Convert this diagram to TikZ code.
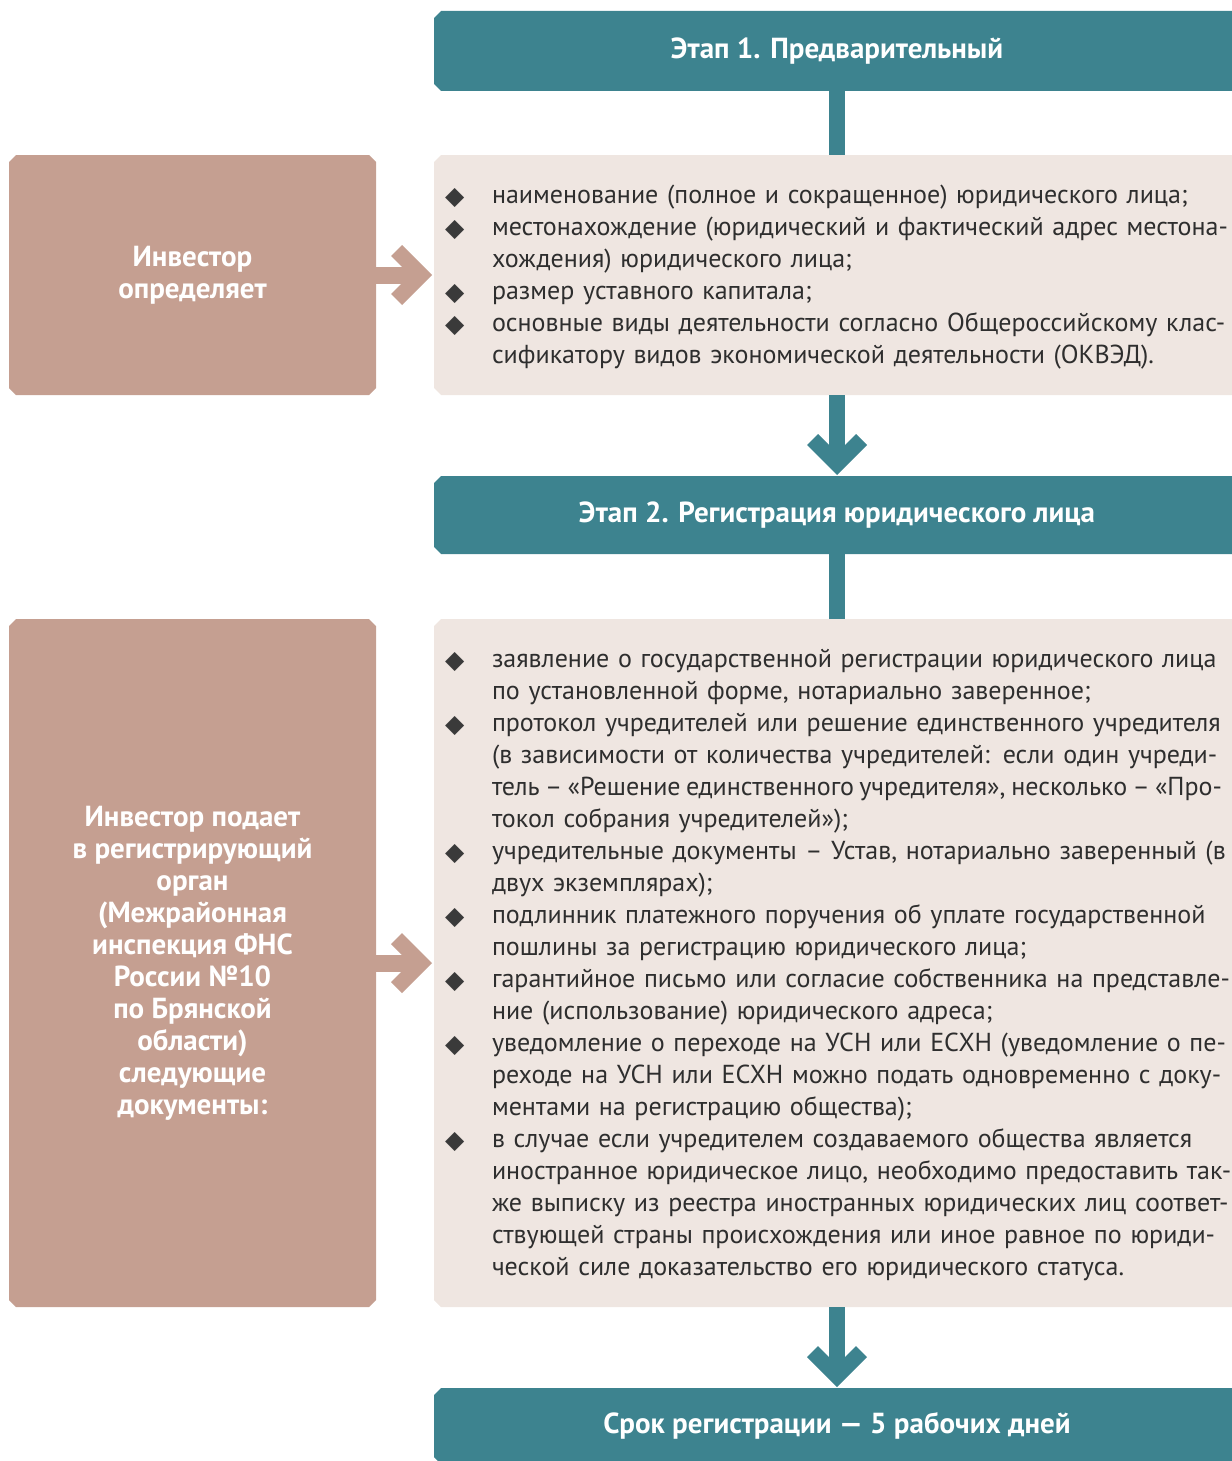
\documentclass[tikz,border=0pt]{standalone}
\usepackage{fontspec}
\setmainfont{PT Sans}
\newfontfamily\symfont{DejaVu Sans}
\usetikzlibrary{calc}
\pgfdeclarelayer{background}
\pgfsetlayers{background,main}
\definecolor{tealc}{HTML}{3D838F}
\definecolor{brownc}{HTML}{C59F91}
\definecolor{palec}{HTML}{EFE6E1}
\definecolor{txtc}{HTML}{2E2E2E}
\definecolor{bulc}{HTML}{3A3A3A}
\newcommand\bulbox{\hbox to 47pt{\hspace{0pt}\raisebox{-1.5pt}{\symfont\fontsize{25pt}{25pt}\selectfont\color{bulc}◆}\hfil}}
\newcommand\indbox{\hbox to 47pt{}}
\newcommand\bj[1]{\par\noindent\bulbox\hbox to 730pt{#1}}
\newcommand\bz[1]{\par\noindent\bulbox\hbox to 730pt{#1\hfil}}
\newcommand\cj[1]{\par\noindent\indbox\hbox to 730pt{#1}}
\newcommand\ctj[1]{\par\noindent\indbox\hbox to 730pt{\spaceskip=0.12em plus 0.2em minus 0.02em #1}}
\newcommand\cz[1]{\par\noindent\indbox\hbox to 730pt{#1\hfil}}
\newcommand\chamLeft[2]{%
  \fill[#2] ($(#1.north west)+(7,0)$) -- (#1.north east) -- (#1.south east)
    -- ($(#1.south west)+(7,0)$) -- ($(#1.south west)+(0,-7)$) -- ($(#1.north west)+(0,7)$) -- cycle;}
\newcommand\chamAll[2]{%
  \fill[#2] ($(#1.north west)+(7,0)$) -- ($(#1.north east)+(-7,0)$) -- ($(#1.north east)+(0,7)$)
    -- ($(#1.south east)+(0,-7)$) -- ($(#1.south east)+(-7,0)$)
    -- ($(#1.south west)+(7,0)$) -- ($(#1.south west)+(0,-7)$) -- ($(#1.north west)+(0,7)$) -- cycle;}
\tikzset{
  boxnode/.style={rectangle, inner sep=0pt, outer sep=0pt},
  stagebox/.style={boxnode, minimum width=806pt, text=white,
    font=\bfseries\fontsize{29pt}{34pt}\selectfont},
  palebox/.style={boxnode, minimum width=806pt},
  brownbox/.style={boxnode, minimum width=367pt, text=white, align=center,
    font=\bfseries\fontsize{29pt}{32pt}\selectfont},
  listtext/.style={boxnode, anchor=west, text width=777pt, text=txtc,
    font=\fontsize{26pt}{32pt}\selectfont\setlength\parskip{0pt}},
  conn/.style={draw=tealc, line width=16pt},
  bconn/.style={draw=brownc, line width=17pt},
}
\begin{document}
\begin{tikzpicture}[x=1pt,y=-1pt]
\useasboundingbox (0,0) rectangle (1231,1461);
% stages
\node[stagebox, minimum height=80pt] (s1) at (837,51) {Этап 1. Предварительный};
\node[stagebox, minimum height=78pt] (s2) at (837,515) {Этап 2. Регистрация юридического лица};
\node[stagebox, minimum height=76pt] (s3) at (837,1426) {Срок регистрации — 5 рабочих дней};
% pale boxes
\node[palebox, minimum height=240pt] (p1) at (837,275) {};
\node[palebox, minimum height=688pt] (p2) at (837,963) {};
% brown boxes
\node[brownbox, minimum height=240pt] (b1) at (192.5,275) {Инвестор\\определяет};
\node[brownbox, minimum height=688pt] (b2) at (192.5,963) {Инвестор подает\\в регистрирующий\\орган\\(Межрайонная\\инспекция ФНС\\России №10\\по Брянской\\области)\\следующие\\документы:};
% lists
\node[listtext] (l1) at (445,270) {%
\bz{наименование (полное и сокращенное) юридического лица;}
\bj{местонахождение (юридический и фактический адрес местона-}
\cz{хождения) юридического лица;}
\bz{размер уставного капитала;}
\bj{основные виды деятельности согласно Общероссийскому клас-}
\cz{сификатору видов экономической деятельности (ОКВЭД).}
};
\node[listtext] (l2) at (445,958) {%
\bj{заявление о государственной регистрации юридического лица}
\cz{по установленной форме, нотариально заверенное;}
\bj{протокол учредителей или решение единственного учредителя}
\cj{(в зависимости от количества учредителей: если один учреди-}
\ctj{тель – «Решение единственного учредителя», несколько – «Про-}
\cz{токол собрания учредителей»);}
\bj{учредительные документы – Устав, нотариально заверенный (в}
\cz{двух экземплярах);}
\bj{подлинник платежного поручения об уплате государственной}
\cz{пошлины за регистрацию юридического лица;}
\bj{гарантийное письмо или согласие собственника на представле-}
\cz{ние (использование) юридического адреса;}
\bj{уведомление о переходе на УСН или ЕСХН (уведомление о пе-}
\cj{реходе на УСН или ЕСХН можно подать одновременно с доку-}
\cz{ментами на регистрацию общества);}
\bj{в случае если учредителем создаваемого общества является}
\cj{иностранное юридическое лицо, необходимо предоставить так-}
\cj{же выписку из реестра иностранных юридических лиц соответ-}
\cj{ствующей страны происхождения или иное равное по юриди-}
\cz{ческой силе доказательство его юридического статуса.}
};
\begin{pgfonlayer}{background}
\chamLeft{s1}{tealc}
\chamLeft{s2}{tealc}
\chamLeft{s3}{tealc}
\chamLeft{p1}{palec}
\chamLeft{p2}{palec}
\chamAll{b1}{brownc}
\chamAll{b2}{brownc}
% connectors
\draw[conn] (s1.south) -- (p1.north);
\draw[conn] (s2.south) -- (p2.north);
\draw[conn] (p1.south) -- ($(s2.north)+(0,-20)$);
\fill[tealc, shift={(s2.north)}] (0,-1) -- (-30,-31) -- (-19,-42) -- (0,-23) -- (19,-42) -- (30,-31) -- cycle;
\draw[conn] (p2.south) -- ($(s3.north)+(0,-20)$);
\fill[tealc, shift={(s3.north)}] (0,-1) -- (-30,-31) -- (-19,-42) -- (0,-23) -- (19,-42) -- (30,-31) -- cycle;
\draw[bconn] (b1.east) -- ($(p1.west)+(-22,0)$);
\fill[brownc, shift={(p1.west)}] (-2,0) -- (-32,-30) -- (-43,-19) -- (-24,0) -- (-43,19) -- (-32,30) -- cycle;
\draw[bconn] (b2.east) -- ($(p2.west)+(-22,0)$);
\fill[brownc, shift={(p2.west)}] (-2,0) -- (-32,-30) -- (-43,-19) -- (-24,0) -- (-43,19) -- (-32,30) -- cycle;
\end{pgfonlayer}
\end{tikzpicture}
\end{document}
